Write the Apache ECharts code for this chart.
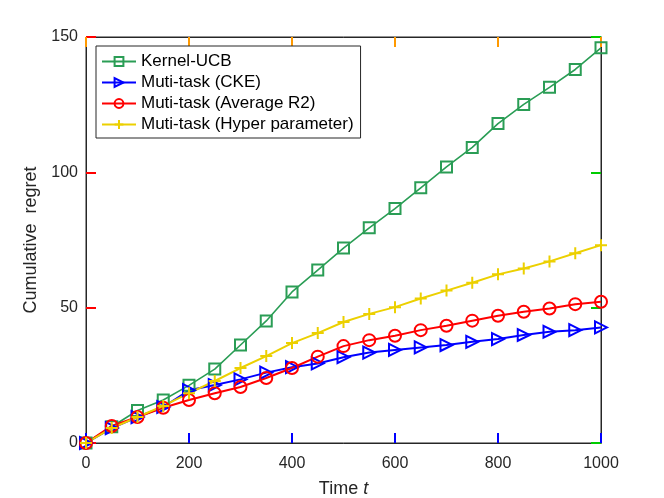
<!DOCTYPE html>
<html>
<head>
<meta charset="utf-8">
<script src="https://cdn.jsdelivr.net/npm/echarts@6/dist/echarts.min.js"></script>
<style>
  html, body { margin: 0; padding: 0; background: #fff; }
  #chart { width: 664px; height: 498px; }
</style>
</head>
<body>
<div id="chart"></div>
<script>
// time steps (markers every 50)
var timeSteps = [0, 50, 100, 150, 200, 250, 300, 350, 400, 450, 500,
                 550, 600, 650, 700, 750, 800, 850, 900, 950, 1000];

var kernelUCB = [0, 6, 12, 15.9, 21.3, 27.3, 36.2, 45.1, 55.8, 63.9, 72,
                 79.5, 86.6, 94.3, 102, 109.2, 118, 125.1, 131.4, 138, 146];
var mutiCKE   = [0, 5.5, 9.6, 13.3, 19.5, 21.4, 23.5, 26, 28, 29.4, 31.7,
                 33.4, 34.4, 35.3, 36.2, 37.4, 38.4, 39.9, 41.1, 41.7, 42.7];
var mutiAvgR2 = [0, 6.3, 9.6, 13, 15.9, 18.4, 20.7, 24, 27.7, 31.9, 35.8,
                 38, 39.6, 41.7, 43.3, 45.2, 47, 48.5, 49.7, 51.3, 52.2];
var mutiHyper = [0, 5.5, 9.6, 13.7, 18.4, 22.9, 27.7, 32.1, 36.9, 40.6, 44.7,
                 47.7, 50.2, 53.4, 56.3, 59.2, 62.3, 64.5, 67.1, 70.1, 73.1];

var legendNames = ['Kernel-UCB', 'Muti-task (CKE)', 'Muti-task (Average R2)', 'Muti-task (Hyper parameter)'];

function pairs(ys) {
  return timeSteps.map(function (t, i) { return [t, ys[i]]; });
}

var axisColor = '#262626';
var font = 'Liberation Sans, Arial, Helvetica, sans-serif';

var dom = echarts.init(document.getElementById('chart'));

function mkSeries(name, ys, color, symbol, size, rotate, lw) {
  return {
    name: name,
    type: 'line',
    data: pairs(ys),
    symbol: symbol,
    symbolSize: size,
    symbolRotate: rotate,
    showAllSymbol: true,
    lineStyle: { color: color, width: lw },
    itemStyle: { color: 'rgba(0,0,0,0)', borderColor: color, borderWidth: 2 },
    emphasis: { disabled: true },
    animation: false
  };
}

function ticks(c) {
  return { show: true, inside: true, length: 10, lineStyle: { color: c, width: 2 } };
}
function line() {
  return { show: true, onZero: false, lineStyle: { color: axisColor, width: 1 } };
}

var option = {
  animation: false,
  grid: {
    left: 86, right: 63, top: 37, bottom: 55,
    containLabel: false, outerBoundsMode: 'none',
    show: true, borderColor: axisColor, borderWidth: 1
  },
  legend: {
    orient: 'vertical',
    left: 96,
    top: 46,
    padding: [7, 7, 5, 5],
    itemGap: 4,
    itemWidth: 34,
    itemHeight: 11,
    backgroundColor: '#fff',
    borderColor: axisColor,
    borderWidth: 1,
    textStyle: { fontFamily: font, fontSize: 17, color: '#000' },
    data: legendNames
  },
  xAxis: [{
    type: 'value', position: 'bottom',
    min: 0, max: 1000, interval: 200,
    name: '{a|Time }{b|t}',
    nameLocation: 'middle',
    nameGap: 37,
    nameTextStyle: {
      rich: {
        a: { fontFamily: font, fontSize: 18, color: axisColor },
        b: { fontFamily: font, fontSize: 18, fontStyle: 'italic', color: axisColor }
      }
    },
    axisLine: line(),
    axisTick: ticks('#0000ff'),
    axisLabel: { fontFamily: font, fontSize: 16, color: axisColor, margin: 13, formatter: function (v) { return String(v); } },
    splitLine: { show: false }
  }, {
    type: 'value', position: 'top', min: 0, max: 1000, interval: 200,
    axisLine: line(),
    axisTick: ticks('#ff9900'),
    axisLabel: { show: false }, splitLine: { show: false }
  }],
  yAxis: [{
    type: 'value', position: 'left',
    min: 0, max: 150, interval: 50,
    name: 'Cumulative  regret',
    nameLocation: 'middle',
    nameGap: 43,
    nameTextStyle: { fontFamily: font, fontSize: 18, color: axisColor },
    axisLine: line(),
    axisTick: ticks('#ff0000'),
    axisLabel: { fontFamily: font, fontSize: 16, color: axisColor, margin: 8 },
    splitLine: { show: false }
  }, {
    type: 'value', position: 'right', min: 0, max: 150, interval: 50,
    axisLine: line(),
    axisTick: ticks('#00cc00'),
    axisLabel: { show: false }, splitLine: { show: false }
  }],
  series: [
    mkSeries(legendNames[0], kernelUCB, '#2a9d55', 'rect', 11, 0, 1.6),
    mkSeries(legendNames[1], mutiCKE, '#0000ff', 'triangle', 12, -90, 2),
    mkSeries(legendNames[2], mutiAvgR2, '#ff0000', 'circle', 12, 0, 2),
    mkSeries(legendNames[3], mutiHyper, '#ecd000', 'path://M5,0L5,10M0,5L10,5', 12, 0, 2)
  ]
};

dom.setOption(option);
</script>
</body>
</html>
